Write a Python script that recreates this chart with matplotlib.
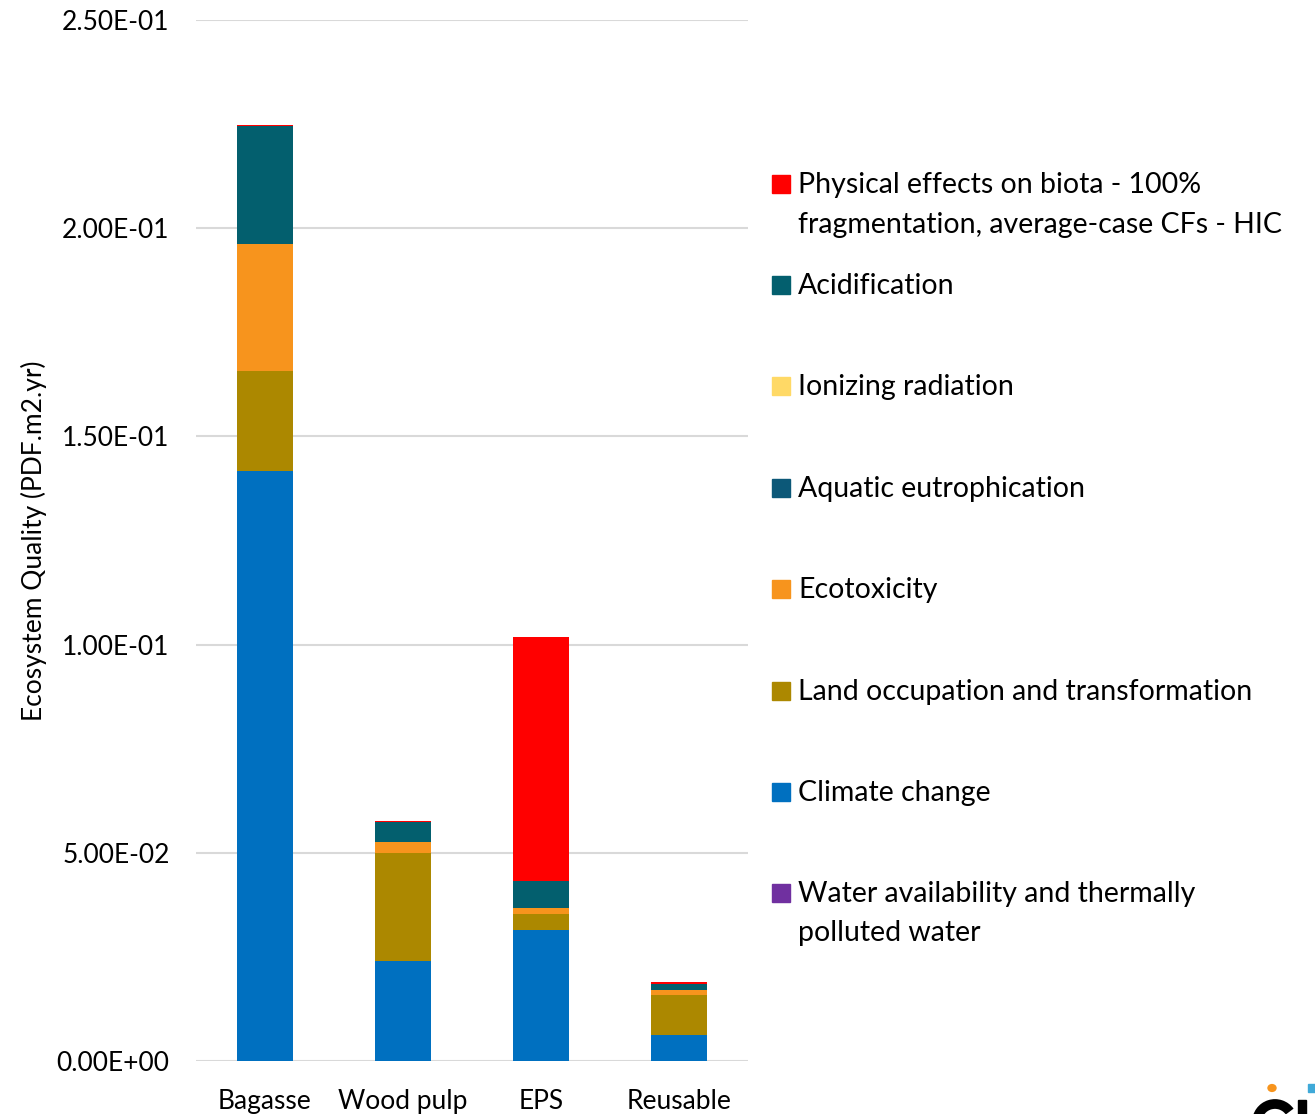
import numpy as np
import matplotlib.pyplot as plt
from matplotlib.patches import Rectangle, Circle, Arc

plt.rcParams['font.family'] = ['Lato', 'DejaVu Sans']

# packaging options on the x axis
products = ['Bagasse', 'Wood pulp', 'EPS', 'Reusable']

# impact categories, stacked from the bottom up
water = [0.00001, 0.00001, 0.00001, 0.00001]
climate = [0.1417, 0.0240, 0.0315, 0.0062]
land = [0.0240, 0.0259, 0.0038, 0.0097]
ecotox = [0.0305, 0.0026, 0.0014, 0.0012]
aquatic = [0.00005, 0.00005, 0.00005, 0.00005]
ionizing = [0.00001, 0.00001, 0.00001, 0.00001]
acid = [0.0283, 0.0048, 0.0065, 0.0014]
physical = [0.0003, 0.0002, 0.0586, 0.0005]

series = [
    ('Water availability and thermally\npolluted water', water, '#7030A0'),
    ('Climate change', climate, '#0070C0'),
    ('Land occupation and transformation', land, '#AC8800'),
    ('Ecotoxicity', ecotox, '#F7941D'),
    ('Aquatic eutrophication', aquatic, '#0C5878'),
    ('Ionizing radiation', ionizing, '#FFD966'),
    ('Acidification', acid, '#035F6E'),
    ('Physical effects on biota - 100%\nfragmentation, average-case CFs - HIC', physical, '#FF0000'),
]

W, H = 1315, 1114
fig = plt.figure(figsize=(W / 100, H / 100), dpi=100)
ax = fig.add_axes([196 / W, 1 - 1061 / H, (748 - 196) / W, (1061 - 20) / H])

x = np.arange(len(products))
bottom = np.zeros(len(products))
for name, vals, col in series:
    ax.bar(x, vals, width=0.41, bottom=bottom, color=col, edgecolor='none', zorder=3)
    bottom += np.array(vals)

ax.set_xlim(-0.5, 3.5)
ax.set_ylim(0, 0.25)
ax.set_yticks(np.arange(0, 0.2501, 0.05))
ax.set_yticklabels(['0.00E+00', '5.00E-02', '1.00E-01', '1.50E-01', '2.00E-01', '2.50E-01'])
ax.set_xticks(x)
ax.set_xticklabels(products)
ax.tick_params(axis='y', length=0, pad=19, labelsize=19)
ax.tick_params(axis='x', length=0, pad=20, labelsize=19)
ax.grid(axis='y', color='#D9D9D9', linewidth=1.5, zorder=0)
for s in ax.spines.values():
    s.set_visible(False)
ax.set_ylabel('Ecosystem Quality (PDF.m2.yr)', fontsize=19, labelpad=7)

# legend drawn by hand so every entry gets the same spacing
ys = [184, 285, 386, 488, 589, 691, 792, 893]
for (name, vals, col), yy in zip(series[::-1], ys):
    fig.patches.append(Rectangle((772 / W, 1 - (yy + 9) / H), 18 / W, 18 / H,
                                 transform=fig.transFigure, color=col))
    for i, line in enumerate(name.split('\n')):
        fig.text(798 / W, 1 - (yy + 9 + 39.5 * i) / H, line, fontsize=20.5,
                 va='baseline', ha='left')

# corner of the logo, cut by the figure edge
fig.patches.append(Circle((1272 / W, 1 - 1088 / H), 4 / W, transform=fig.transFigure,
                          color='#F7941D'))
fig.patches.append(Rectangle((1308 / W, 1 - 1092 / H), 7 / W, 8 / H,
                             transform=fig.transFigure, color='#3FA9D8'))
fig.patches.append(Arc((1275 / W, 1 - 1122 / H), 36 / W, 36 / H, theta1=40, theta2=320,
                       transform=fig.transFigure, color='black', lw=7))
fig.patches.append(Rectangle((1298 / W, 0), 8 / W, 14 / H,
                             transform=fig.transFigure, color='black'))

fig.savefig('out.png', dpi=100)
